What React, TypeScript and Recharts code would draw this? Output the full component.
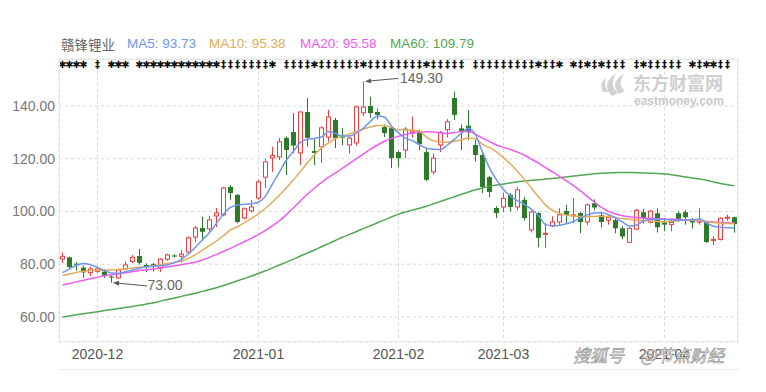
import React from 'react';
import { ComposedChart, Bar, Line, XAxis, YAxis, CartesianGrid } from 'recharts';

const stockName = '赣锋锂业';

const dates = [
  '2020-11-24','2020-11-25','2020-11-26','2020-11-27','2020-11-30',
  '2020-12-01','2020-12-02','2020-12-03','2020-12-04','2020-12-07','2020-12-08','2020-12-09','2020-12-10','2020-12-11',
  '2020-12-14','2020-12-15','2020-12-16','2020-12-17','2020-12-18','2020-12-21','2020-12-22','2020-12-23','2020-12-24',
  '2020-12-25','2020-12-28','2020-12-29','2020-12-30','2020-12-31',
  '2021-01-04','2021-01-05','2021-01-06','2021-01-07','2021-01-08','2021-01-11','2021-01-12','2021-01-13','2021-01-14',
  '2021-01-15','2021-01-18','2021-01-19','2021-01-20','2021-01-21','2021-01-22','2021-01-25','2021-01-26','2021-01-27',
  '2021-01-28','2021-01-29',
  '2021-02-01','2021-02-02','2021-02-03','2021-02-04','2021-02-05','2021-02-08','2021-02-09','2021-02-10','2021-02-18',
  '2021-02-19','2021-02-22','2021-02-23','2021-02-24','2021-02-25','2021-02-26',
  '2021-03-01','2021-03-02','2021-03-03','2021-03-04','2021-03-05','2021-03-08','2021-03-09','2021-03-10','2021-03-11',
  '2021-03-12','2021-03-15','2021-03-16','2021-03-17','2021-03-18','2021-03-19','2021-03-22','2021-03-23','2021-03-24',
  '2021-03-25','2021-03-26','2021-03-29','2021-03-30','2021-03-31',
  '2021-04-01','2021-04-02','2021-04-06','2021-04-07','2021-04-08','2021-04-09','2021-04-12','2021-04-13','2021-04-14',
  '2021-04-15','2021-04-16',
];

const monthTicks = ['2020-12-01', '2021-01-04', '2021-02-01', '2021-03-01', '2021-04-01'];
const priceTicks = [60, 80, 100, 120, 140];

const openP = [
  82.0,82.6,80.2,78.7,76.8,77.3,77.2,75.3,74.8,78.2,81.0,83.1,79.7,80.0,78.5,81.9,83.3,83.0,84.6,90.3,
  93.7,93.4,98.3,98.7,109.3,106.3,97.5,100.2,105.1,113.0,120.3,120.7,127.9,130.1,122.2,137.7,122.9,124.5,128.2,134.7,
  129.0,125.2,126.0,137.4,140.0,137.7,132.0,131.6,122.5,123.3,130.0,130.5,122.5,115.0,125.2,131.0,143.0,131.5,132.5,125.2,
  121.4,113.0,101.3,101.7,106.3,101.7,104.4,93.0,99.4,91.3,94.5,96.0,100.2,98.3,99.4,96.0,103.1,98.6,96.7,96.7,
  93.6,88.3,93.3,99.7,95.9,99.3,95.9,95.0,99.3,99.7,96.5,96.0,96.0,89.0,89.4,97.4,97.8,
];
const highP = [
  84.5,82.9,80.8,79.5,79.0,79.0,78.0,75.8,78.3,81.0,83.5,85.8,80.3,80.5,82.3,84.0,83.8,85.4,90.5,94.5,
  98.0,98.3,101.3,109.2,110.0,106.5,101.5,104.4,112.0,120.0,124.5,127.9,128.5,137.3,138.0,143.0,127.9,132.3,138.5,135.5,
  131.6,128.5,140.2,149.3,143.5,139.0,133.0,132.0,123.0,132.0,136.0,131.0,124.0,122.0,130.5,135.0,145.4,133.0,138.5,127.2,
  122.0,113.5,102.0,107.0,107.0,109.2,105.5,100.2,99.8,95.6,98.2,101.2,102.5,105.0,99.8,103.0,104.6,99.5,98.6,97.5,
  94.4,94.0,101.0,101.0,100.5,101.2,97.5,97.0,100.0,100.5,97.5,101.2,96.5,90.6,97.8,98.8,98.0,
];
const lowP = [
  80.5,78.5,77.5,74.8,75.5,76.5,74.8,73.0,74.5,77.8,80.5,79.8,77.0,77.2,77.0,81.3,82.6,80.6,84.0,88.5,
  89.0,92.5,94.1,98.2,104.4,95.5,97.0,99.6,104.4,108.9,115.0,119.5,113.8,122.0,117.6,124.5,117.6,118.4,126.5,124.0,
  125.2,122.0,125.0,136.0,135.4,135.0,128.2,116.4,116.8,120.2,128.0,123.3,111.5,114.0,122.5,128.0,134.7,123.3,127.0,119.0,
  107.0,105.4,97.5,99.7,100.0,100.5,96.5,92.0,86.4,86.2,94.0,95.0,95.5,95.6,91.8,94.8,100.5,94.0,95.0,91.7,
  89.5,87.9,93.0,95.4,95.5,92.0,92.5,92.5,96.0,95.0,93.5,95.0,88.0,87.2,89.0,96.5,92.0,
];
const closeP = [
  83.0,78.9,79.8,76.9,78.2,78.2,75.6,74.9,77.8,79.7,82.6,80.5,78.9,79.0,81.9,83.5,83.0,83.8,90.0,93.7,
  92.3,96.8,99.4,108.9,107.0,96.0,101.0,101.7,111.2,118.8,121.2,126.4,123.3,125.0,137.7,127.9,122.2,131.7,135.8,127.8,
  128.0,127.8,139.6,139.6,137.3,136.6,129.7,120.2,120.2,131.2,130.5,125.5,112.0,120.2,130.0,134.0,136.6,130.5,130.0,121.4,
  109.3,107.4,99.4,105.0,101.7,108.2,97.5,99.8,90.0,91.7,96.0,98.7,98.7,98.7,96.0,102.5,101.5,96.0,97.8,93.6,
  90.5,93.6,100.4,97.4,100.1,94.0,95.0,95.8,96.7,97.8,95.8,96.3,88.4,89.4,97.4,97.8,95.2,
];

const ma5 = [
  76.8,78.2,79.6,80.3,79.8,78.8,77.6,76.7,76.6,77.1,77.8,78.5,79.0,79.2,79.4,79.8,80.6,81.8,83.9,86.4,
  89.3,92.0,95.5,99.0,101.5,102.4,102.7,102.9,103.5,105.8,110.5,115.0,119.5,122.8,126.2,127.3,127.7,128.2,130.2,129.6,
  128.6,128.6,129.8,131.6,134.2,136.2,135.8,132.3,129.8,127.8,126.8,125.3,124.0,123.6,123.5,125.2,127.4,129.6,131.5,129.0,
  122.5,116.5,112.0,108.3,105.8,104.0,102.7,100.8,98.5,95.0,94.6,94.8,95.3,96.2,97.5,98.7,99.4,99.5,98.8,97.6,
  96.0,94.5,94.8,96.4,96.9,97.0,97.0,96.8,96.7,96.7,96.9,97.1,95.6,94.4,94.0,93.8,93.73,
];
const ma10 = [
  75.7,76.3,76.9,77.3,77.6,77.7,77.8,77.8,78.0,78.3,78.6,78.8,79.0,79.3,79.8,80.3,80.7,81.2,82.2,83.6,
  85.3,87.0,88.8,90.8,93.0,94.2,95.8,97.4,99.2,101.2,103.6,106.2,109.0,112.0,115.2,118.5,121.6,124.0,126.0,127.6,
  128.5,129.4,130.3,131.2,132.0,132.6,132.6,131.8,131.0,130.9,130.9,130.4,128.2,126.8,126.3,126.2,126.6,127.2,127.8,127.6,
  125.4,124.2,122.6,120.4,118.0,115.2,112.2,108.8,105.5,102.5,100.4,99.2,98.6,98.3,98.1,98.0,98.1,98.2,98.1,97.7,
  97.3,97.0,96.8,96.6,96.4,96.2,96.1,96.2,96.5,96.8,96.8,96.5,96.1,95.8,95.6,95.4,95.38,
];
const ma20 = [
  72.1,72.7,73.3,73.9,74.5,75.1,75.6,76.0,76.4,76.8,77.2,77.6,77.9,78.2,78.6,79.0,79.4,79.8,80.3,80.8,
  81.6,82.6,83.7,84.9,86.0,87.3,88.6,89.9,91.2,92.8,94.6,96.5,98.8,101.4,104.0,106.6,108.9,111.0,112.9,114.6,
  116.4,118.2,120.0,121.8,123.6,125.2,126.6,127.7,128.5,129.2,129.7,130.0,130.2,130.1,129.8,129.6,129.9,130.3,130.4,129.2,
  127.8,126.5,125.2,124.3,123.5,122.5,121.3,119.8,118.3,116.6,115.0,113.3,111.6,109.8,107.8,105.6,103.5,101.5,100.0,99.0,
  98.4,98.0,97.7,97.5,97.3,97.2,97.1,97.0,97.0,96.8,96.6,96.4,96.2,96.0,95.8,95.7,95.58,
];
const ma60 = [
  60.0,60.4,60.8,61.2,61.6,62.0,62.4,62.8,63.2,63.6,64.0,64.4,64.9,65.4,66.0,66.6,67.2,67.8,68.4,69.0,
  69.7,70.4,71.1,71.9,72.8,73.7,74.6,75.5,76.5,77.5,78.6,79.7,80.8,81.9,83.1,84.2,85.4,86.6,87.8,89.0,
  90.2,91.3,92.4,93.5,94.6,95.7,96.8,97.9,99.0,99.8,100.5,101.2,102.0,102.9,103.8,104.7,105.6,106.5,107.4,108.2,
  108.9,109.5,110.0,110.4,110.8,111.2,111.5,111.8,112.0,112.3,112.5,112.8,113.1,113.4,113.7,114.0,114.3,114.5,114.6,114.7,
  114.8,114.8,114.7,114.6,114.5,114.4,114.2,113.9,113.5,113.1,112.7,112.3,111.8,111.2,110.6,110.1,109.79,
];

// one glyph per trading day, space = no event marker
const eventMarks = Array.from(
  '✱✱✱✱ ‡ ✱✱✱ ✱✱✱✱✱✱✱✱✱✱✱✱‡‡‡‡‡‡‡✱ ‡‡‡‡✱‡‡‡‡‡‡✱‡‡‡‡‡‡‡‡✱‡‡‡‡‡ ‡‡‡‡‡‡‡‡‡✱‡‡✱ ✱‡✱‡✱‡‡‡ ‡✱‡‡‡‡‡ ✱‡✱✱‡‡ '
);

const data = dates.map((d, i) => ({
  date: d,
  open: openP[i],
  high: highP[i],
  low: lowP[i],
  close: closeP[i],
  ma5: ma5[i],
  ma10: ma10[i],
  ma20: ma20[i],
  ma60: ma60[i],
  mark: eventMarks[i] || ' ',
}));

const maxIdx = highP.indexOf(Math.max(...highP));
const minIdx = lowP.indexOf(Math.min(...lowP));

const UP = '#ef3b3b';
const DOWN = '#2b7b2b';
const C_MA5 = '#7096f0';
const C_MA10 = '#e2ad5a';
const C_MA20 = '#f05af0';
const C_MA60 = '#52a852';
const FONT = '"Liberation Sans", Arial, sans-serif';
const CJK = '"Noto Sans CJK SC", sans-serif';

const W = 766;
const H = 392;
const M = { top: 59, right: 28, bottom: 20, left: 8 };
const PLOT_LEFT = 59;
const PLOT_RIGHT = W - M.right;
const PLOT_BOTTOM = H - M.bottom - 30;

function arrowHead(x1: number, y1: number, x2: number, y2: number) {
  const dx = x2 - x1;
  const dy = y2 - y1;
  const len = Math.hypot(dx, dy) || 1;
  const ux = dx / len;
  const uy = dy / len;
  const hl = 6;
  const hw = 2.4;
  const bx = x1 + ux * hl;
  const by = y1 + uy * hl;
  return `${x1},${y1} ${bx - uy * hw},${by + ux * hw} ${bx + uy * hw},${by - ux * hw}`;
}

const Candle = (props: any) => {
  const { x, y, width, height, payload, index } = props;
  if (!payload || x == null) return null;
  const { open, close, high, low, mark } = payload;
  const cx = x + width / 2;
  const ppu = height / Math.max(0.0001, high - low);
  const yOf = (v: number) => y + (high - v) * ppu;
  const up = close >= open;
  const color = up ? UP : DOWN;
  const top = yOf(Math.max(open, close));
  const bot = yOf(Math.min(open, close));
  const bx = Math.round(cx - 2.5);
  const wx = bx + 2.5;
  const yHigh = yOf(high);
  const yLow = yOf(low);
  const out: any[] = [];
  if (up) {
    const bh = Math.max(1, bot - top);
    out.push(<line key="w1" x1={wx} x2={wx} y1={yHigh} y2={top} stroke={color} strokeWidth={1} />);
    out.push(<line key="w2" x1={wx} x2={wx} y1={top + bh} y2={yLow} stroke={color} strokeWidth={1} />);
    out.push(<rect key="b" x={bx + 0.5} y={top} width={4} height={bh} fill="#fff" stroke={color} strokeWidth={1} />);
  } else {
    out.push(<line key="w" x1={wx} x2={wx} y1={yHigh} y2={yLow} stroke={color} strokeWidth={1} />);
    out.push(<rect key="b" x={bx} y={top} width={5} height={Math.max(1, bot - top)} fill={color} />);
  }
  if (mark && mark !== ' ') {
    out.push(
      <text key="m" x={cx} y={64.5} textAnchor="middle" dominantBaseline="central" fontSize={10} fontWeight="bold" fill="#111"
        fontFamily='"DejaVu Sans", sans-serif'>{mark}</text>
    );
  }
  if (index === maxIdx) {
    const tx = cx + 1.5, ty = yHigh;
    const ex = cx + 34.5, ey = yHigh - 3;
    out.push(<line key="al" x1={tx + 4} y1={ty - 0.4} x2={ex} y2={ey} stroke="#555" strokeWidth={1} />);
    out.push(<polygon key="ah" points={arrowHead(tx, ty, ex, ey)} fill="#555" />);
    out.push(
      <text key="at" x={cx + 36.5} y={yHigh - 3.5} dominantBaseline="central" fontSize={14} fill="#666" fontFamily={FONT}>
        {high.toFixed(2)}
      </text>
    );
  }
  if (index === minIdx) {
    const tx = cx + 1.5, ty = yLow;
    const ex = cx + 35.5, ey = yLow + 3.3;
    out.push(<line key="ll" x1={tx + 4} y1={ty + 0.4} x2={ex} y2={ey} stroke="#555" strokeWidth={1} />);
    out.push(<polygon key="lh" points={arrowHead(tx, ty, ex, ey)} fill="#555" />);
    out.push(
      <text key="lt" x={cx + 36} y={yLow + 2.5} dominantBaseline="central" fontSize={14} fill="#666" fontFamily={FONT}>
        {low.toFixed(2)}
      </text>
    );
  }
  return <g>{out}</g>;
};

const legendItems = [
  { label: 'MA5', value: ma5[ma5.length - 1], color: C_MA5, left: 127 },
  { label: 'MA10', value: ma10[ma10.length - 1], color: C_MA10, left: 209 },
  { label: 'MA20', value: ma20[ma20.length - 1], color: C_MA20, left: 300 },
  { label: 'MA60', value: ma60[ma60.length - 1], color: C_MA60, left: 390 },
];

export default function App() {
  return (
    <div style={{ position: 'absolute', left: 0, top: 0, width: W, height: H, background: '#fff', overflow: 'hidden' }}>
      <ComposedChart width={W} height={H} data={data} margin={M} barCategoryGap={0}>
        <CartesianGrid stroke="#d9d9d9" strokeDasharray="3 3" />
        <XAxis
          dataKey="date"
          ticks={monthTicks}
          interval={0}
          tickFormatter={(v: string) => v.slice(0, 7)}
          axisLine={false}
          tickLine={false}
          tickSize={5}
          tickMargin={2}
          height={30}
          tick={{ fontSize: 14, fill: '#555', fontFamily: FONT }}
        />
        <YAxis
          domain={[50.5, 157.8]}
          ticks={priceTicks}
          allowDataOverflow
          width={51}
          axisLine={false}
          tickLine={false}
          tickSize={2}
          tickMargin={2}
          tickFormatter={(v: number) => v.toFixed(2)}
          tick={{ fontSize: 14, fill: '#777', fontFamily: FONT }}
        />
        <Bar
          dataKey={(d: any) => [d.low, d.high]}
          barSize={5}
          shape={<Candle />}
          isAnimationActive={false}
        />
        <Line dataKey="ma60" type="monotone" stroke={C_MA60} strokeWidth={1.5} dot={false} activeDot={false} isAnimationActive={false} />
        <Line dataKey="ma20" type="monotone" stroke={C_MA20} strokeWidth={1.5} dot={false} activeDot={false} isAnimationActive={false} />
        <Line dataKey="ma10" type="monotone" stroke={C_MA10} strokeWidth={1.5} dot={false} activeDot={false} isAnimationActive={false} />
        <Line dataKey="ma5" type="monotone" stroke={C_MA5} strokeWidth={1.5} dot={false} activeDot={false} isAnimationActive={false} />
      </ComposedChart>

      {/* plot frame */}
      <div style={{ position: 'absolute', left: PLOT_LEFT, top: M.top, width: PLOT_RIGHT - PLOT_LEFT, height: PLOT_BOTTOM - M.top,
        border: '1px solid #e6e6e6', boxSizing: 'border-box', pointerEvents: 'none' }} />
      <div style={{ position: 'absolute', left: PLOT_LEFT, top: 369, width: PLOT_RIGHT - PLOT_LEFT + 1, height: 1, background: '#ececec' }} />

      {/* legend */}
      <div style={{ position: 'absolute', left: 61, top: 36, fontFamily: CJK, fontSize: 13.5, color: '#666', lineHeight: '16px', whiteSpace: 'nowrap' }}>
        {stockName}
      </div>
      {legendItems.map((it) => (
        <div key={it.label} style={{ position: 'absolute', left: it.left, top: 36, fontFamily: FONT, fontSize: 13.5,
          color: it.color, lineHeight: '16px', whiteSpace: 'nowrap' }}>
          {`${it.label}: ${it.value.toFixed(2)}`}
        </div>
      ))}

      {/* watermarks */}
      <svg style={{ position: 'absolute', left: 0, top: 0, pointerEvents: 'none' }} width={W} height={H}>
        <g fill="#d2d2d2">
          <path d="M612 96 C604 88 606 80 616 73 C611 81 612 88 618 93 Z" />
          <path d="M619 94 C612 86 615 78 624 74 C619 81 620 87 625 91 Z" />
          <path d="M603 92 C600 86 601 82 606 78 C604 84 605 88 609 92 Z" />
        </g>
        <text x={633} y={81.5} dominantBaseline="central" fontSize={18} fontWeight="bold" fill="#cfcfcf" fontFamily={CJK}>东方财富网</text>
        <text x={634} y={101} dominantBaseline="central" fontSize={12} fontWeight="bold" fill="#cacaca" fontFamily={FONT}>eastmoney.com</text>
        <g fontFamily={CJK} fontSize={17} fontStyle="italic" fill="#fafafa" stroke="#9a9a9a" strokeWidth={0.7}>
          <text x={573} y={354} dominantBaseline="central">搜狐号</text>
          <text x={640} y={354} dominantBaseline="central">@节点财经</text>
        </g>
      </svg>
    </div>
  );
}
